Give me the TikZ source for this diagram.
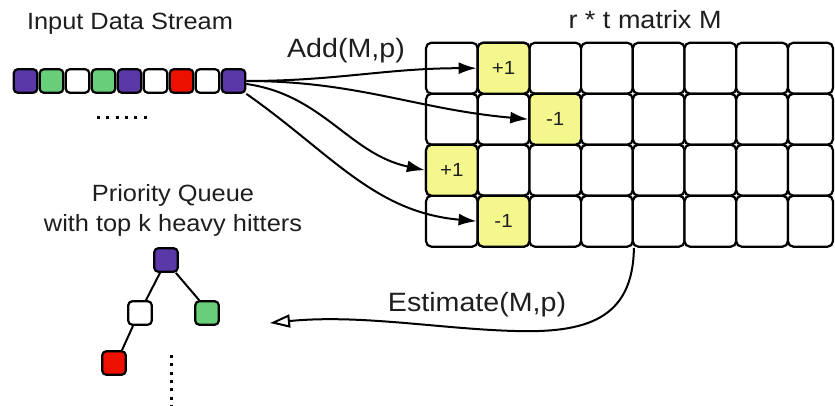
\documentclass[tikz,border=0pt]{standalone}
\usepackage{fontspec}
\setmainfont{Liberation Sans}[FakeStretch=1.08]
\usetikzlibrary{arrows.meta,positioning,calc}

\definecolor{inkgray}{RGB}{30,30,30}
\definecolor{hhpurple}{RGB}{90,56,168}
\definecolor{hhgreen}{RGB}{104,206,121}
\definecolor{hhred}{RGB}{236,16,0}
\definecolor{hhyellow}{RGB}{244,248,140}

\begin{document}
\begin{tikzpicture}[x=1pt, y=-1pt, line width=2pt, >={Latex[length=18pt,width=12pt]},
    every node/.append style={font=\rmfamily, text=inkgray},
    caption/.style={font=\fontsize{23.5}{28}\selectfont, anchor=base},
    oplabel/.style={font=\fontsize{26.5}{30}\selectfont, anchor=base},
    item/.style={draw, line width=2.2pt, rounded corners=4pt, minimum width=23.5pt, minimum height=23.5pt, inner sep=0pt},
    cell/.style={draw, fill=white, line width=2.2pt, rounded corners=5.5pt, minimum height=51pt, inner sep=0pt, font=\fontsize{19}{22}\selectfont},
    hit/.style={cell, fill=hhyellow, minimum width=51.7pt},
    dots/.style={line width=3pt, dash pattern=on 3pt off 6.3pt},
    tree edge/.style={line width=2pt}]
  \useasboundingbox (0,0) rectangle (835,406);

  % incoming stream of items
  \node[caption] (stream-title) at (130,29.3) {Input Data Stream};
  \foreach \c [count=\i] in {hhpurple,hhgreen,white,hhgreen,hhpurple,white,hhred,white,hhpurple}
    \node[item, fill=\c] (s\i) at ({26*\i-0.5},81) {};
  \draw[dots] (97,117.3) -- (146.5,117.3);

  % r x t counter matrix
  \node[caption, font=\fontsize{25}{30}\selectfont] (matrix-title) at (645,29) {r * t matrix M};
  \foreach \r in {1,...,4}
    \foreach \c/\x/\w in {1/451.85/51.7, 2/503.55/51.7, 3/555.25/51.7, 4/606.95/51.7,
                          5/658.65/51.7, 6/710.35/51.7, 7/762.05/51.7, 8/810.45/45.1}
      \node[cell, minimum width=\w pt] (m-\r-\c) at (\x,{42.7+51*(\r-0.5)}) {};
  \node[hit] (inc1) at (m-1-2) {+1};
  \node[hit] (dec1) at (m-2-3) {-1};
  \node[hit] (inc2) at (m-3-1) {+1};
  \node[hit] (dec2) at (m-4-2) {-1};

  % updates
  \node[oplabel] (add-label) at (346,57.3) {Add(M,p)};
  \draw[->] (s9.east) to[out=0, in=180] (inc1.west);
  \draw[->] (s9.east) to[out=0, in=175] (dec1.west);
  \draw[->] ([yshift=-3pt]s9.east) to[out=-8, in=168] (inc2.west);
  \draw[->] (s9.south east) to[out=-35, in=175] (dec2.west);

  % heap of heavy hitters
  \node[caption] (pq-title) at (173,201.7) {Priority Queue};
  \node[caption] (pq-sub) at (173,231.7) {with top k heavy hitters};
  \node[item, fill=hhpurple] (pq-root) at (166,260) {};
  \node[item, fill=white] (pq-left) at (140,313) {};
  \node[item, fill=hhgreen] (pq-right) at (207,313) {};
  \node[item, fill=hhred] (pq-leaf) at (114,363) {};
  \draw[tree edge] ([xshift=-6pt]pq-root.south) -- ([xshift=6pt]pq-left.north);
  \draw[tree edge] ([xshift=-3pt]pq-root.south east) -- ([xshift=5pt]pq-right.north west);
  \draw[tree edge] ([xshift=-7pt]pq-left.south) -- ([xshift=8pt]pq-leaf.north);
  \draw[dots, dash pattern=on 3pt off 5.3pt] (171,355) -- (171,406);

  % query
  \node[oplabel] (est-label) at (477,311) {Estimate(M,p)};
  \coordinate (pq-in) at (270,323);
  \draw[-{Triangle[open,length=20pt,width=13pt]}] (m-4-4.south east)
    .. controls (633,320) and (585,333) .. (515,331)
    .. controls (440,329) and (360,314) .. (pq-in);
\end{tikzpicture}
\end{document}
